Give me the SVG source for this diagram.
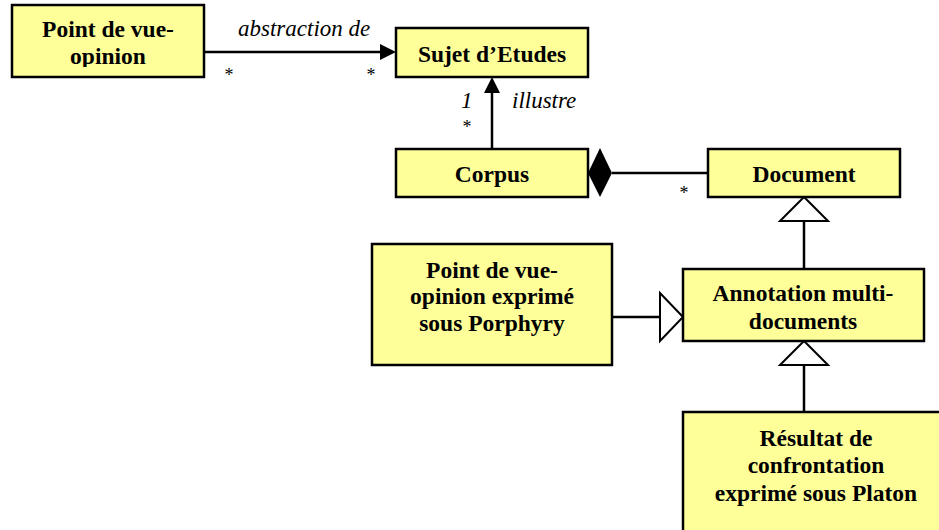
<svg xmlns="http://www.w3.org/2000/svg" width="939" height="530" viewBox="0 0 939 530">
<style>
.box{fill:#FFFF99;stroke:#000;stroke-width:2.5}
.t{font-family:"Liberation Serif","Times New Roman",serif;font-weight:bold;font-size:23.5px;text-anchor:middle;fill:#000}
.i{font-family:"Liberation Serif","Times New Roman",serif;font-style:italic;font-size:23px;fill:#000}
.s{font-family:"Liberation Serif","Times New Roman",serif;font-size:18px;fill:#000;text-anchor:middle}
.ln{stroke:#000;stroke-width:2.5;fill:none}
.open{fill:#fff;stroke:#000;stroke-width:2}
</style>
<defs>
<clipPath id="c1"><rect x="12" y="5" width="192" height="62"/></clipPath>
</defs>
<g id="connectors">
<line class="ln" x1="204" y1="52" x2="382" y2="52"/>
<polygon points="396,52 380,44 380,60" fill="#000"/>
<line class="ln" x1="492" y1="149" x2="492" y2="90"/>
<polygon points="492,77 484,93 500,93" fill="#000"/>
<line class="ln" x1="612" y1="173" x2="708" y2="173"/>
<polygon points="588,173 600,148 612,173 600,197" fill="#000"/>
<line class="ln" x1="804" y1="221" x2="804" y2="269"/>
<polygon class="open" points="804,197 780,221 828,221"/>
<line class="ln" x1="612" y1="317" x2="660" y2="317"/>
<polygon class="open" points="683,317 660,293 660,341"/>
<line class="ln" x1="804" y1="365" x2="804" y2="412"/>
<polygon class="open" points="804,341 780,365 828,365"/>
<text class="i" x="238" y="36">abstraction de</text>
<text class="s" x="229" y="81">*</text>
<text class="s" x="371" y="81">*</text>
<text class="i" x="461" y="108">1</text>
<text class="s" x="467" y="133">*</text>
<text class="i" x="512" y="108">illustre</text>
<text class="s" x="684" y="199">*</text>
</g>
<g id="n1">
<rect class="box" x="12" y="5" width="192" height="72"/>
<g clip-path="url(#c1)">
<text class="t" x="108" y="37">Point de vue-</text>
<text class="t" x="108" y="64">opinion</text>
</g>
</g>
<g id="n2">
<rect class="box" x="396" y="28" width="192" height="49"/>
<text class="t" x="492" y="62">Sujet d’Etudes</text>
</g>
<g id="n3">
<rect class="box" x="396" y="149" width="192" height="48"/>
<text class="t" x="492" y="182">Corpus</text>
</g>
<g id="n4">
<rect class="box" x="708" y="149" width="192" height="48"/>
<text class="t" x="804" y="182">Document</text>
</g>
<g id="n5">
<rect class="box" x="372" y="244" width="240" height="121"/>
<text class="t" x="492" y="278">Point de vue-</text>
<text class="t" x="492" y="304">opinion exprimé</text>
<text class="t" x="492" y="331">sous Porphyry</text>
</g>
<g id="n6">
<rect class="box" x="683" y="269" width="241" height="72"/>
<text class="t" x="803" y="301">Annotation multi-</text>
<text class="t" x="803" y="329">documents</text>
</g>
<g id="n7">
<rect class="box" x="683" y="412" width="266" height="140"/>
<text class="t" x="816" y="446">Résultat de</text>
<text class="t" x="816" y="473">confrontation</text>
<text class="t" x="816" y="501">exprimé sous Platon</text>
</g>
</svg>
